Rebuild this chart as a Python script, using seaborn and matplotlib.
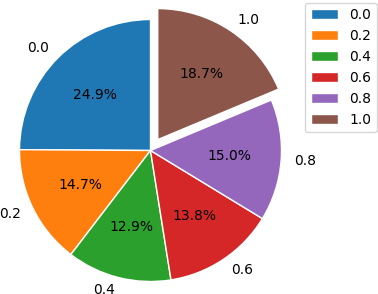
import matplotlib
matplotlib.use('Agg')
import matplotlib.pyplot as plt
import seaborn as sns

# slice categories and their shares (percent)
categories = ['0.0', '0.2', '0.4', '0.6', '0.8', '1.0']
shares = [24.9, 14.7, 12.9, 13.8, 15.0, 18.7]
explode = [0, 0, 0, 0, 0, 0.1]

sns.set_style('white')
plt.rcParams['text.color'] = 'black'
plt.rcParams['font.family'] = ['DejaVu Sans']
colors = sns.color_palette('tab10', len(categories))

W, H = 378, 294
fig = plt.figure(figsize=(W / 100, H / 100), dpi=100)

# place the pie so its radius is ~131 px, centred at (150.5, 143.5) from bottom-left
r_px = 131
side = 2.5 * r_px
cx, cy = 150.5, 143.5
ax = fig.add_axes([(cx - side / 2) / W, (cy - side / 2) / H, side / W, side / H])

wedges, texts, autotexts = ax.pie(shares, labels=categories, colors=colors, explode=explode,
                                  autopct='%1.1f%%', startangle=90,
                                  textprops={'fontsize': 10, 'color': 'black'})
ax.set_xlim(-1.25, 1.25)
ax.set_ylim(-1.25, 1.25)
ax.set_aspect('equal')

leg = fig.legend(wedges, categories, loc='upper right', bbox_to_anchor=(377 / W, 1 - 2.5 / H),
                 bbox_transform=fig.transFigure, borderaxespad=0, fontsize=10)
for t in leg.get_texts():
    t.set_color('black')

plt.savefig('out.png', dpi=100)
plt.close()
